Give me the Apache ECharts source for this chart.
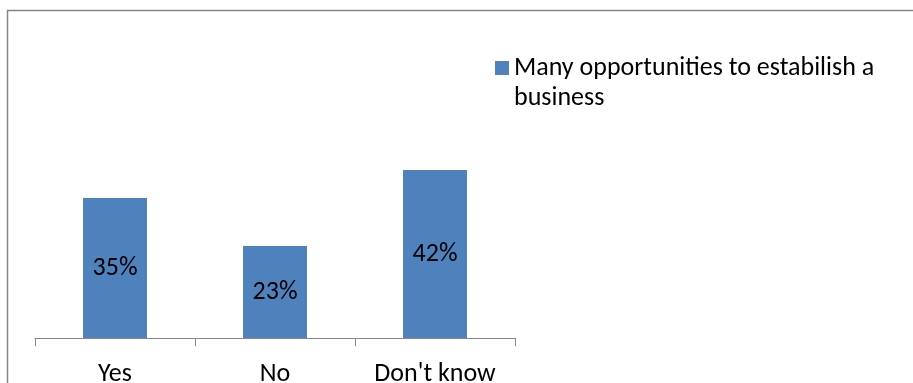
<!DOCTYPE html>
<html>
<head>
<meta charset="utf-8">
<script src="https://cdn.jsdelivr.net/npm/echarts@6/dist/echarts.min.js"></script>
<style>
html,body{margin:0;padding:0;background:#fff;}
#c{width:913px;height:383px;}
</style>
</head>
<body>
<div id="c"></div>
<script>
const categories = ["Yes", "No", "Don't know"];
const seriesName = "Many opportunities to estabilish a business";
const values = [35, 23, 42];

const FONT = "Carlito, Lato, 'Noto Sans', sans-serif";
const chart = echarts.init(document.getElementById('c'), null, {renderer: 'canvas'});
chart.setOption({
  animation: false,
  backgroundColor: '#ffffff',
  graphic: [{
    type: 'rect',
    shape: {x: 7.5, y: 10.5, width: 920, height: 400},
    style: {fill: 'none', stroke: '#868686', lineWidth: 1.5},
    silent: true
  }],
  grid: {left: 35, right: 398, top: 138, bottom: 45, containLabel: false, outerBoundsMode: 'none'},
  legend: {
    left: 490, top: 18,
    itemWidth: 14, itemHeight: 14, itemGap: 5,
    icon: 'rect',
    data: [seriesName],
    formatter: function () { return '\nMany opportunities to estabilish a\nbusiness'; },
    textStyle: {fontFamily: FONT, fontSize: 26, color: '#000', lineHeight: 30}
  },
  xAxis: {
    type: 'category',
    data: categories,
    axisLine: {lineStyle: {color: '#868686', width: 1}},
    axisTick: {show: true, length: 8, alignWithLabel: false, lineStyle: {color: '#868686'}},
    axisLabel: {fontFamily: FONT, fontSize: 26, color: '#000', margin: 23}
  },
  yAxis: {
    type: 'value', min: 0, max: 50,
    show: false,
    splitLine: {show: false}
  },
  series: [{
    name: seriesName,
    type: 'bar',
    data: values,
    barWidth: '40%',
    itemStyle: {color: '#4F81BD'},
    label: {
      show: true, position: 'inside',
      formatter: '{c}%',
      fontFamily: FONT, fontSize: 26, color: '#000'
    }
  }]
});
</script>
</body>
</html>
